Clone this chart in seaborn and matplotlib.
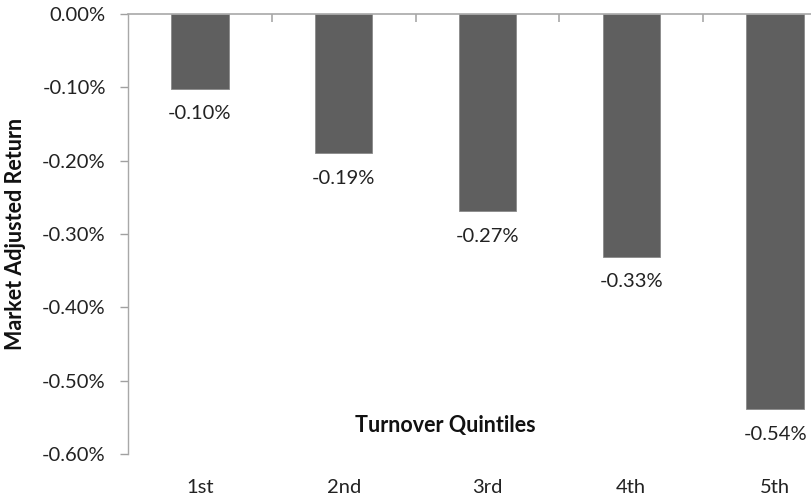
import numpy as np
import pandas as pd
import matplotlib
matplotlib.use("Agg")
import matplotlib.pyplot as plt
import seaborn as sns
from matplotlib.ticker import FuncFormatter, FixedLocator

# data
quintiles = ["1st", "2nd", "3rd", "4th", "5th"]
returns = [-0.102, -0.190, -0.269, -0.331, -0.539]  # percent
value_labels = ["-0.10%", "-0.19%", "-0.27%", "-0.33%", "-0.54%"]
yticks = [0.0, -0.1, -0.2, -0.3, -0.4, -0.5, -0.6]

df = pd.DataFrame({"Quintile": quintiles, "Return": returns})

sns.set_theme(style="white")
plt.rcParams["font.family"] = ["Lato", "DejaVu Sans"]

fig = plt.figure(figsize=(8.11, 4.98), dpi=100)
# plot area runs past the right edge of the image, like the original
W, H = 811, 498
ax = fig.add_axes([128 / W, (H - 454) / H, (847 - 128) / W, (454 - 14) / H])

sns.barplot(data=df, x="Quintile", y="Return", color="#5f5f5f",
            width=0.4, saturation=1, ax=ax, edgecolor="#8a8a8a", linewidth=0.6)

ax.set_ylim(-0.6, 0.0)
ax.set_xlim(-0.5, 4.5)

# value labels under each bar
for i, (v, lab) in enumerate(zip(returns, value_labels)):
    ax.annotate(lab, xy=(i, v), xytext=(0, -12), textcoords="offset points",
                ha="center", va="top", fontsize=14.5, color="#222222")

# y axis
ax.set_yticks(yticks)
ax.yaxis.set_major_formatter(FuncFormatter(lambda y, _: f"{y:.2f}%"))
ax.tick_params(axis="y", left=True, length=6, width=1, color="#a0a0a0",
               labelsize=14.5, labelcolor="#222222", pad=10)

# x axis: line at zero (top), boundary ticks, labels at bottom
for s in ["right", "bottom"]:
    ax.spines[s].set_visible(False)
ax.spines["top"].set_visible(True)
ax.spines["top"].set_color("#a8a8a8")
ax.spines["top"].set_linewidth(1.2)
ax.spines["left"].set_color("#a8a8a8")
ax.spines["left"].set_linewidth(1.0)

ax.xaxis.set_minor_locator(FixedLocator([0.5, 1.5, 2.5, 3.5]))
ax.tick_params(axis="x", which="minor", top=True, bottom=False, direction="in",
               length=6, width=1.2, color="#a8a8a8")
ax.tick_params(axis="x", which="major", bottom=True, top=False, length=0,
               labelsize=14.5, labelcolor="#222222", pad=18)

ax.set_xlabel("")
ax.set_ylabel("Market Adjusted Return", fontsize=15.5, fontweight="bold", color="#111111")
ax.yaxis.set_label_coords((26 - 128) / (847 - 128), 0.5)

ax.text((445 - 128) / (847 - 128), (454 - 425) / (454 - 14), "Turnover Quintiles",
        transform=ax.transAxes, ha="center", va="center",
        fontsize=15.5, fontweight="bold", color="#111111")

fig.savefig("out.png", dpi=100)
